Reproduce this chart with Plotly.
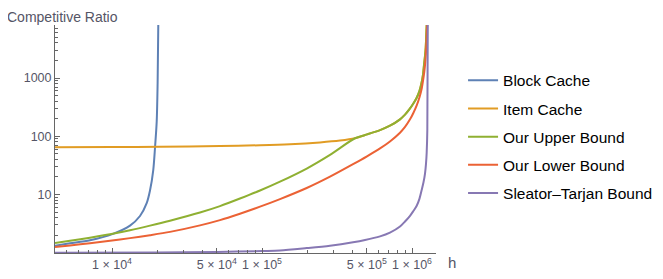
import plotly.graph_objects as go

# ---- data (h, competitive ratio) ----
block_h = [4170, 5250, 7130, 10150, 13180, 15370, 17030, 17920, 18840, 19350, 19860, 20140, 20390]
block_r = [1.32, 1.45, 1.64, 2.11, 2.92, 4.27, 7.08, 11.7, 26.3, 63.1, 178, 794, 12600]

item_h = [4170, 10000, 20890, 52480, 97000, 153800, 243600, 331100, 416900,
          486300, 612200, 713000, 831800, 898400, 970000, 1021000, 1075000, 1122000,
          1161000, 1184000, 1202000, 1221000, 1234000, 1253000, 1263000]
item_r = [64.9, 65.3, 66.1, 67.9, 70.0, 72.8, 78.2, 84.1, 92.3,
          104.7, 127.4, 151.4, 195, 234.4, 300, 365, 458, 600,
          851, 1148, 1660, 2399, 3311, 8128, 12600]

upper_h = [4170, 5250, 7130, 9700, 13180, 17920, 24360, 38610, 52480, 71300, 97000,
           131800, 198600, 284000, 416900,
           486300, 612200, 713000, 831800, 898400, 970000, 1021000, 1075000, 1122000,
           1161000, 1184000, 1202000, 1221000, 1234000, 1253000, 1263000]
upper_r = [1.47, 1.60, 1.81, 2.07, 2.43, 2.92, 3.55, 4.90, 6.31, 8.51, 11.7,
           16.6, 27.9, 47.9, 92.3,
           104.7, 127.4, 151.4, 195, 234.4, 300, 365, 458, 600,
           851, 1148, 1660, 2399, 3311, 8128, 12600]

lower_h = [4170, 5250, 7130, 9700, 13180, 17920, 24360, 38610, 52480, 71300, 97000,
           131800, 198600, 284000, 404500, 501200, 612200, 713000, 831800, 898400,
           970000, 1021000, 1075000, 1122000, 1161000, 1184000, 1208000, 1227000,
           1240000, 1259000, 1275000]
lower_r = [1.25, 1.33, 1.46, 1.60, 1.78, 2.0, 2.28, 2.95, 3.63, 4.68, 6.17,
           8.32, 12.9, 20.2, 33.1, 45.2, 61.7, 81.3, 114.8, 144.5,
           195, 251, 339, 468, 661, 891, 1288, 1905,
           2818, 7079, 15000]

st_h = [4170, 20000, 50000, 100000, 131800, 198600, 284000, 404500, 486300, 612200,
        713000, 831800, 898400, 970000, 1021000, 1075000, 1122000, 1161000, 1193000,
        1221000, 1240000, 1253000, 1265000, 1275000]
st_r = [1.0, 1.01, 1.03, 1.07, 1.09, 1.2, 1.32, 1.51, 1.65, 1.905,
        2.21, 2.82, 3.43, 4.3, 5.19, 6.4, 8.5, 12, 16.2,
        22.9, 33.9, 52.5, 126, 12600]

series_names = ["Block Cache", "Item Cache", "Our Upper Bound", "Our Lower Bound", "Sleator\u2013Tarjan Bound"]
series_colors = ["#5E81B5", "#E19C24", "#8FB032", "#EB6235", "#8778B3"]
series_data = [(block_h, block_r), (item_h, item_r), (upper_h, upper_r), (lower_h, lower_r), (st_h, st_r)]

x_tickvals = [1e4, 5e4, 1e5, 5e5, 1e6]
x_ticktext = ["1 \u00d7 10<sup>4</sup>", "5 \u00d7 10<sup>4</sup>", "1 \u00d7 10<sup>5</sup>",
              "5 \u00d7 10<sup>5</sup>", "1 \u00d7 10<sup>6</sup>"]
y_tickvals = [10, 100, 1000]
y_ticktext = ["10", "100", "1000"]

x_minor = [m * 10 ** e for e in (3, 4, 5, 6) for m in range(2, 10)] + [1e4, 1e5, 1e6]
y_minor = [m * 10 ** e for e in (0, 1, 2, 3) for m in range(2, 10)]

fig = go.Figure()
for i, (name, color, (hx, ry)) in enumerate(zip(series_names, series_colors, series_data)):
    fig.add_trace(go.Scatter(
        x=hx, y=ry, mode="lines", name=name, legendgroup=f"g{i}",
        line=dict(color=color, width=2, shape="spline", smoothing=0.8),
    ))

axis_color = "#666666"
# the page body adds an 8px offset, so the figure is 8px smaller on each axis
fig.update_layout(
    width=655, height=271,
    margin=dict(l=47, r=227, t=17, b=26, autoexpand=False),
    paper_bgcolor="white", plot_bgcolor="white",
    font=dict(family="Liberation Sans, Arial, sans-serif", color="#555555", size=12),
    showlegend=True,
    legend=dict(x=1.071, xanchor="left", y=0.83, yanchor="top",
                font=dict(size=15.5, color="#000000"), tracegroupgap=5,
                bgcolor="rgba(0,0,0,0)", itemwidth=30),
    xaxis=dict(type="log", range=[3.62, 6.16], showgrid=False, zeroline=False,
               showline=True, linecolor=axis_color, linewidth=1,
               ticks="inside", ticklen=5, tickcolor=axis_color,
               tickvals=x_tickvals, ticktext=x_ticktext,
               tickfont=dict(size=12.5, color="#555566"),
               minor=dict(tickmode="array", tickvals=x_minor, ticks="inside",
                          ticklen=3, tickcolor=axis_color)),
    yaxis=dict(type="log", range=[-0.005, 3.91], showgrid=False, zeroline=False,
               showline=True, linecolor=axis_color, linewidth=1,
               ticks="inside", ticklen=5, tickcolor=axis_color,
               tickvals=y_tickvals, ticktext=y_ticktext,
               tickfont=dict(size=12.5, color="#555566"),
               minor=dict(tickmode="array", tickvals=y_minor, ticks="inside",
                          ticklen=3, tickcolor=axis_color)),
    annotations=[
        dict(text="Competitive Ratio", xref="paper", yref="paper",
             x=-0.131, y=1.035, xanchor="left", yanchor="middle", showarrow=False,
             font=dict(size=14, color="#555566")),
        dict(text="h", xref="paper", yref="paper",
             x=1.025, y=-0.04, xanchor="left", yanchor="middle", showarrow=False,
             font=dict(size=15, color="#555566")),
    ],
)

fig.write_html("out.html")
